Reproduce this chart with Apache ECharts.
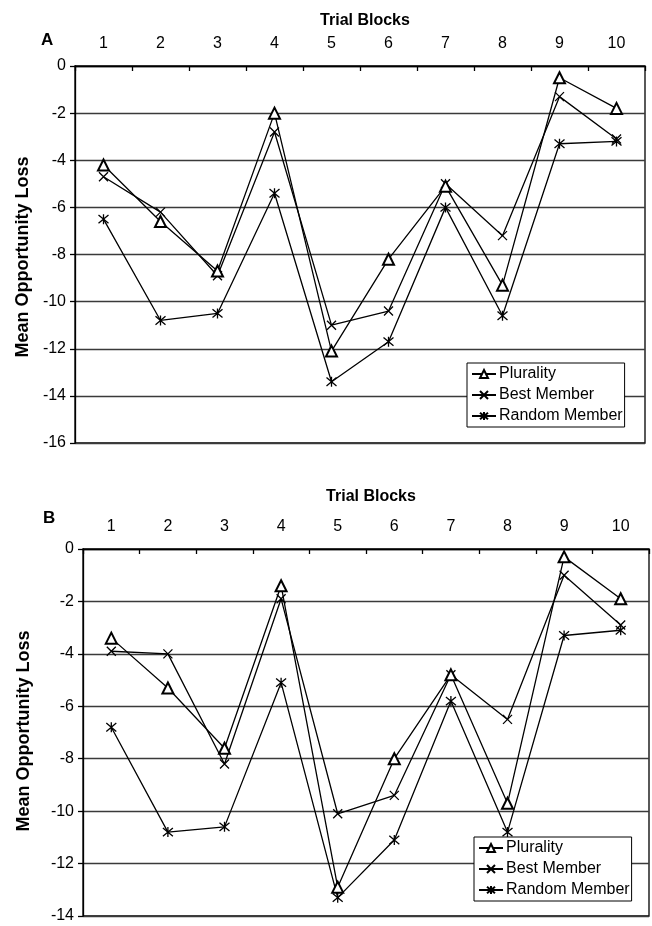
<!DOCTYPE html>
<html><head><meta charset="utf-8">
<script src="https://cdn.jsdelivr.net/npm/echarts@6/dist/echarts.min.js"></script>
<style>html,body{margin:0;padding:0;background:#fff}#c{width:652px;height:926px}</style>
</head><body><div id="c"></div>
<script>
const categories = ['1','2','3','4','5','6','7','8','9','10'];
const seriesNames = ['Plurality','Best Member','Random Member'];
// Panel A
const pluralityA = [-4.2,-6.6,-8.7,-2.0,-12.1,-8.2,-5.1,-9.3,-0.5,-1.8];
const bestA      = [-4.7,-6.2,-8.9,-2.8,-11.0,-10.4,-5.0,-7.2,-1.3,-3.1];
const randomA    = [-6.5,-10.8,-10.5,-5.4,-13.4,-11.7,-6.0,-10.6,-3.3,-3.2];
// Panel B
const pluralityB = [-3.4,-5.3,-7.6,-1.4,-12.9,-8.0,-4.8,-9.7,-0.3,-1.9];
const bestB      = [-3.9,-4.0,-8.2,-1.9,-10.1,-9.4,-4.8,-6.5,-1.0,-2.9];
const randomB    = [-6.8,-10.8,-10.6,-5.1,-13.3,-11.1,-5.8,-10.8,-3.3,-3.1];
const yMinA = -16, yMinB = -14, yMax = 0, yStep = 2;

const FONT = 'Liberation Sans, Arial, sans-serif';
const symbols = ['emptyTriangle','path://M0,0L10,10M10,0L0,10','path://M0,0L10,10M10,0L0,10M5,-1L5,11'];
const symSize = [11, 9, 10];

function mkSeries(name, data, idx, k) {
  return {
    name, type: 'line', data, xAxisIndex: idx, yAxisIndex: idx,
    symbol: symbols[k], symbolSize: symSize[k], showAllSymbol: true,
    lineStyle: {color: '#000', width: 1.3},
    itemStyle: {color: '#000', borderColor: '#000', borderWidth: 1.3},
    emphasis: {disabled: true}, animation: false, z: 3 + (2 - k)
  };
}
function xAx(idx) {
  return {
    type: 'category', gridIndex: idx, data: categories, position: 'top',
    boundaryGap: true,
    axisLine: {show: true, lineStyle: {color: '#000', width: 1.3}},
    axisTick: {show: true, inside: true, length: 5, lineStyle: {color: '#000', width: 1.3}},
    axisLabel: {color: '#000', fontSize: 16, fontFamily: FONT, margin: 14}
  };
}
function yAx(idx, min) {
  return {
    type: 'value', gridIndex: idx, min, max: yMax, interval: yStep,
    axisLine: {show: true, lineStyle: {color: '#000', width: 1.3}},
    axisTick: {show: true, length: 5, lineStyle: {color: '#000', width: 1.3}},
    axisLabel: {color: '#000', fontSize: 16, fontFamily: FONT, margin: 9},
    splitLine: {show: true, lineStyle: {color: '#3a3a3a', width: 1.3}}
  };
}
const legendCommon = {
  orient: 'vertical', backgroundColor: '#fff', borderColor: '#000', borderWidth: 1,
  padding: [3, 2, 3, 4], itemGap: 5, itemWidth: 24, itemHeight: 10,
  textStyle: {color: '#000', fontSize: 16, fontFamily: FONT, padding: [0,0,0,-2]},
  data: seriesNames, selectedMode: false, z: 10
};
const chart = echarts.init(document.getElementById('c'), null, {renderer: 'canvas'});
chart.setOption({
  backgroundColor: '#fff',
  animation: false,
  title: [
    {text: 'Trial Blocks', left: 360, top: 8, textAlign: 'center', textStyle: {fontSize: 16, fontWeight: 'bold', color: '#000', fontFamily: FONT}},
    {text: 'A', left: 36, top: 27, textStyle: {fontSize: 17, fontWeight: 'bold', color: '#000', fontFamily: FONT}},
    {text: 'Trial Blocks', left: 366, top: 484, textAlign: 'center', textStyle: {fontSize: 16, fontWeight: 'bold', color: '#000', fontFamily: FONT}},
    {text: 'B', left: 38, top: 505, textStyle: {fontSize: 17, fontWeight: 'bold', color: '#000', fontFamily: FONT}}
  ],
  graphic: [
    {type: 'text', x: 23, y: 257, rotation: Math.PI/2, style: {text: 'Mean Opportunity Loss', font: 'bold 18px ' + FONT, fill: '#000', align: 'center', verticalAlign: 'middle'}},
    {type: 'text', x: 24, y: 731, rotation: Math.PI/2, style: {text: 'Mean Opportunity Loss', font: 'bold 18px ' + FONT, fill: '#000', align: 'center', verticalAlign: 'middle'}}
  ],
  grid: [
    {left: 75, top: 66, width: 570, height: 377, show: true, borderColor: '#000', borderWidth: 1.3, backgroundColor: 'transparent'},
    {left: 83, top: 549, width: 566, height: 367, show: true, borderColor: '#000', borderWidth: 1.3, backgroundColor: 'transparent'}
  ],
  xAxis: [xAx(0), xAx(1)],
  yAxis: [yAx(0, yMinA), yAx(1, yMinB)],
  legend: [
    Object.assign({left: 467, top: 363}, legendCommon),
    Object.assign({left: 474, top: 837}, legendCommon)
  ],
  series: [
    mkSeries(seriesNames[0], pluralityA, 0, 0),
    mkSeries(seriesNames[1], bestA, 0, 1),
    mkSeries(seriesNames[2], randomA, 0, 2),
    mkSeries(seriesNames[0], pluralityB, 1, 0),
    mkSeries(seriesNames[1], bestB, 1, 1),
    mkSeries(seriesNames[2], randomB, 1, 2)
  ]
});
</script></body></html>
